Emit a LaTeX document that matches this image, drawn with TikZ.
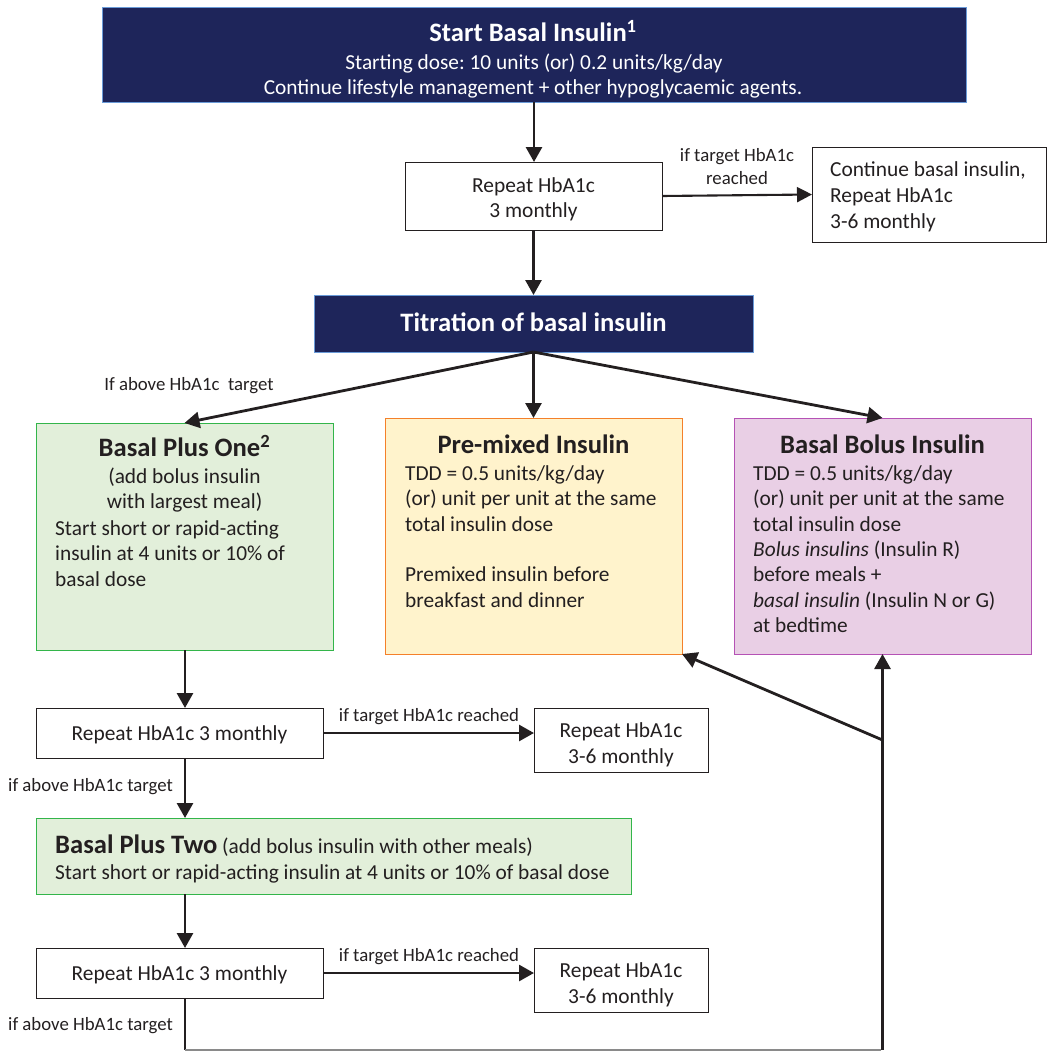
\documentclass[tikz,border=0pt]{standalone}
\usepackage{fontspec}
\setmainfont{Carlito}
\usetikzlibrary{arrows.meta}
\definecolor{ink}{HTML}{231F20}
\definecolor{navy}{HTML}{1E255A}
\definecolor{navyedge}{HTML}{6A9BD8}
\definecolor{greenfill}{HTML}{E2EFDA}
\definecolor{greenedge}{HTML}{33B54A}
\definecolor{yellowfill}{HTML}{FFF3CC}
\definecolor{yellowedge}{HTML}{F4802A}
\definecolor{pinkfill}{HTML}{E9CFE5}
\definecolor{pinkedge}{HTML}{B552B5}
\definecolor{loopgray}{HTML}{8A8A8A}
\newcommand{\bodyfont}{\fontsize{21.35}{25.4}\selectfont}
\newcommand{\repfont}{\fontsize{21.4}{26}\selectfont}
\newcommand{\labfont}{\fontsize{18.8}{23}\selectfont}
\newcommand{\headfont}{\fontsize{26.6}{30}\selectfont\bfseries}
\begin{document}
\frenchspacing
\begin{tikzpicture}[x=1pt,y=-1pt,
  plainbox/.style={draw=ink, line width=0.9pt, fill=white, inner sep=0pt, outer sep=0pt},
  navybox/.style={draw=navyedge, line width=0.9pt, fill=navy, inner sep=0pt, outer sep=0pt},
  greenbox/.style={draw=greenedge, line width=0.9pt, fill=greenfill, inner sep=0pt, outer sep=0pt},
  yellowbox/.style={draw=yellowedge, line width=0.9pt, fill=yellowfill, inner sep=0pt, outer sep=0pt},
  pinkbox/.style={draw=pinkedge, line width=0.9pt, fill=pinkfill, inner sep=0pt, outer sep=0pt},
  txt/.style={inner sep=0pt, text=ink},
  lines/.style={txt, anchor=north west, align=left},
  clines/.style={txt, anchor=north, align=center},
  flow/.style={draw=ink, line width=2.8pt, -{Triangle[length=15pt,width=16pt]}},
  flowthin/.style={draw=ink, line width=2.1pt, -{Triangle[length=15pt,width=15pt]}},
  thin/.style={draw=ink, line width=1.3pt},
  loopline/.style={draw=loopgray, line width=1.3pt}]
\useasboundingbox (0,0) rectangle (1047,1052);

% ---- boxes ----
\node[navybox, minimum width=864pt, minimum height=95pt] (start) at (534,54.5) {};
\node[plainbox, minimum width=257pt, minimum height=68pt] (rep1) at (533.5,196) {};
\node[plainbox, minimum width=234pt, minimum height=95pt] (cont) at (929,194.5) {};
\node[navybox, minimum width=439pt, minimum height=57pt] (titr) at (533.5,323.5) {};
\node[greenbox, minimum width=297pt, minimum height=227pt] (bp1) at (184.5,536.5) {};
\node[yellowbox, minimum width=297pt, minimum height=236pt] (pm) at (533.5,536) {};
\node[pinkbox, minimum width=297pt, minimum height=236pt] (bb) at (882.5,536) {};
\node[plainbox, minimum width=287pt, minimum height=50pt] (rep2) at (179.5,733) {};
\node[plainbox, minimum width=174pt, minimum height=64pt] (r2b) at (621,740) {};
\node[greenbox, minimum width=595pt, minimum height=76pt] (bp2) at (333.5,856) {};
\node[plainbox, minimum width=287pt, minimum height=50pt] (rep3) at (179.5,973) {};
\node[plainbox, minimum width=174pt, minimum height=64pt] (r3b) at (621,980) {};

% ---- texts ----
\node[txt, text=white, anchor=base, font=\headfont] (startT) at (533,41.7) {Start Basal Insulin\textsuperscript{1}};
\node[txt, text=white, anchor=base, font=\bodyfont] (startA) at (534,69) {Starting dose: 10 units (or) 0.2 units/kg/day};
\node[txt, text=white, anchor=base, font=\bodyfont] (startB) at (533,94.5) {Continue lifestyle management + other hypoglycaemic agents.};

\node[txt, anchor=base, font=\repfont] (rep1a) at (533.5,192) {Repeat HbA1c};
\node[txt, anchor=base, font=\repfont] (rep1b) at (533.5,217.5) {3 monthly};

\node[txt, anchor=base, font=\labfont] (lab1a) at (737,161) {if target HbA1c};
\node[txt, anchor=base, font=\labfont] (lab1b) at (737,184) {reached};

\node[lines, font=\repfont] (contT) at (830,176-18.2) {\strut Continue basal insulin,\\Repeat HbA1c\\3-6 monthly};

\node[txt, text=white, anchor=base, font=\headfont] (titrT) at (533.5,331) {Titration of basal insulin};

\node[txt, anchor=base, font=\labfont] (lab2) at (189,390.5) {If above HbA1c\ \ target};

% Basal plus one
\node[txt, anchor=base, font=\headfont] (bp1T) at (184.5,456.7) {Basal Plus One\textsuperscript{2}};
\node[clines, font=\bodyfont] (bp1A) at (184.5,483.3-17.78) {\strut(add bolus insulin\\with largest meal)};
\node[lines, font=\bodyfont] (bp1B) at (55,535-17.78) {\strut Start short or rapid-acting\\insulin at 4 units or 10\% of\\basal dose};

% Pre-mixed
\node[txt, anchor=base, font=\headfont] (pmT) at (533.5,453) {Pre-mixed Insulin};
\node[lines, font=\bodyfont] (pmA) at (405,480-17.78) {\strut TDD = 0.5 units/kg/day\\(or) unit per unit at the same\\total insulin dose\\[25.4pt]Premixed insulin before\\breakfast and dinner};

% Basal bolus
\node[txt, anchor=base, font=\headfont] (bbT) at (882.5,453) {Basal Bolus Insulin};
\node[lines, font=\bodyfont] (bbA) at (753,480-17.78) {\strut TDD = 0.5 units/kg/day\\(or) unit per unit at the same\\total insulin dose\\\textit{Bolus insulins} (Insulin R)\\before meals +\\\textit{basal insulin} (Insulin N or G)\\at bedtime};

% second stage
\node[txt, anchor=base, font=\repfont] (rep2a) at (179.5,740) {Repeat HbA1c 3 monthly};
\node[txt, anchor=base, font=\labfont] (lab3) at (429,721.5) {if target HbA1c reached};
\node[txt, anchor=base, font=\repfont] (r2ba) at (621,737.5) {Repeat HbA1c};
\node[txt, anchor=base, font=\repfont] (r2bb) at (621,763.5) {3-6 monthly};
\node[txt, anchor=base west, font=\labfont] (lab4) at (8,791.5) {if above HbA1c target};

\node[txt, anchor=base west, font=\bodyfont] (bp2A) at (55,853) {{\headfont Basal Plus Two} (add bolus insulin with other meals)};
\node[txt, anchor=base west, font=\bodyfont] (bp2B) at (55,879) {Start short or rapid-acting insulin at 4 units or 10\% of basal dose};

% third stage
\node[txt, anchor=base, font=\repfont] (rep3a) at (179.5,980) {Repeat HbA1c 3 monthly};
\node[txt, anchor=base, font=\labfont] (lab5) at (429,961.5) {if target HbA1c reached};
\node[txt, anchor=base, font=\repfont] (r3ba) at (621,977.5) {Repeat HbA1c};
\node[txt, anchor=base, font=\repfont] (r3bb) at (621,1003.5) {3-6 monthly};
\node[txt, anchor=base west, font=\labfont] (lab6) at (8,1030.5) {if above HbA1c target};

% ---- connectors ----
\coordinate (spine) at (185,0);
\coordinate (loop) at (882.5,1050);
\coordinate (fork) at (882.5,740);

\draw[flow] (start.south) -- (start.south |- rep1.north);
\draw[flowthin] (rep1.east) -- (cont.west);
\draw[flow] (rep1.south) -- (rep1.south |- titr.north);
\draw[flow] (titr.south) -- (bp1.north);
\draw[flow] (titr.south) -- (pm.north);
\draw[flow] (titr.south) -- (bb.north);

\draw[flow] (spine |- bp1.south) -- (spine |- rep2.north);
\draw[flow] (rep2.east) -- (rep2.east -| r2b.west);
\draw[flow] (spine |- rep2.south) -- (spine |- bp2.north);
\draw[flow] (spine |- bp2.south) -- (spine |- rep3.north);
\draw[flow] (rep3.east) -- (rep3.east -| r3b.west);

\draw[thin] (spine |- rep3.south) -- (spine |- loop);
\draw[loopline] (spine |- loop) -- ([xshift=-2pt]loop);
\draw[flow] (loop) -- (bb.south);
\draw[flow] (fork) -- (pm.south east);
\end{tikzpicture}
\end{document}
